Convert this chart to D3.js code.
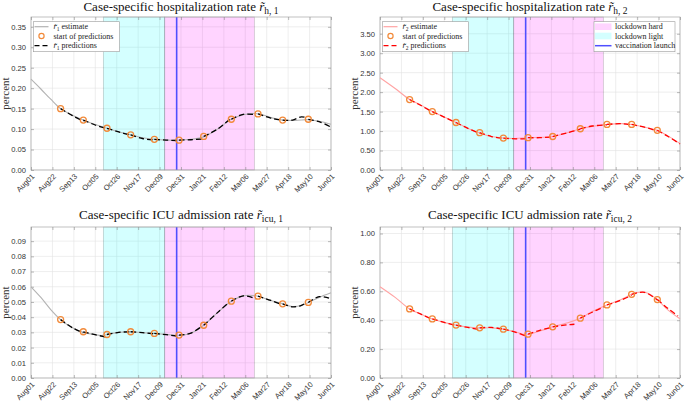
<!DOCTYPE html>
<html><head><meta charset="utf-8">
<script src="https://cdn.jsdelivr.net/npm/d3@7"></script>
<style>body{margin:0;background:#fff}</style>
</head><body>
<svg id="chart" width="685" height="402"></svg>
<script>
// ---------- data ----------
const xTickLabels = ["Aug01","Aug22","Sep13","Oct05","Oct26","Nov17","Dec09","Dec31","Jan21","Feb12","Mar06","Mar27","Apr18","May10","Jun01"];
const totalDays = 304; // Aug01 -> Jun01
const lockdownLight = [73.3, 135.5];
const lockdownHard = [135.5, 226.3];
const vaccinationDay = 147.6;

const estH1 = [[0,0.222],[10,0.198],[20,0.173],[30,0.150],[42,0.134],[53,0.122],[65,0.111],[77,0.102],[89,0.093],[101,0.086],[113,0.079],[125,0.075],[137,0.073],[150,0.073],[162,0.075],[175,0.081],[189,0.100],[203,0.124],[215,0.135],[225,0.138],[232,0.137],[243,0.128],[255,0.122],[268,0.121],[281,0.123],[292,0.119],[304,0.112]];
const predH1 = [
  [[30,0.150],[42,0.133],[53,0.119]],
  [[53,0.122],[65,0.110],[77,0.101]],
  [[77,0.102],[89,0.093],[101,0.085]],
  [[101,0.086],[113,0.077],[125,0.073]],
  [[125,0.075],[137,0.073],[150,0.072]],
  [[150,0.073],[162,0.074],[175,0.076]],
  [[175,0.082],[189,0.100],[203,0.127]],
  [[203,0.124],[215,0.136],[228,0.135]],
  [[230,0.137],[243,0.127],[255,0.121]],
  [[255,0.122],[265,0.122],[274,0.130],[280,0.127]],
  [[281,0.124],[292,0.118],[303,0.106]]
];

const estH2 = [[0,2.37],[15,2.10],[30,1.81],[42,1.66],[53,1.50],[65,1.36],[77,1.22],[90,1.06],[101,0.95],[113,0.86],[125,0.82],[137,0.81],[150,0.83],[162,0.84],[175,0.86],[189,0.95],[203,1.06],[215,1.12],[230,1.17],[245,1.19],[255,1.17],[268,1.10],[281,1.02],[292,0.87],[304,0.68]];
const predH2 = [
  [[30,1.81],[42,1.65],[53,1.49]],
  [[53,1.50],[65,1.36],[77,1.21]],
  [[77,1.22],[89,1.07],[101,0.94]],
  [[101,0.96],[113,0.86],[125,0.81]],
  [[125,0.82],[137,0.80],[150,0.81]],
  [[150,0.83],[162,0.83],[175,0.85]],
  [[175,0.86],[189,0.95],[203,1.05]],
  [[203,1.06],[215,1.13],[230,1.16]],
  [[230,1.17],[243,1.19],[255,1.16]],
  [[255,1.17],[268,1.10],[281,1.00]],
  [[281,1.02],[292,0.86],[304,0.67]]
];

const estICU1 = [[0,0.060],[10,0.053],[20,0.045],[30,0.0384],[42,0.033],[53,0.0300],[65,0.0285],[72,0.0280],[77,0.0286],[89,0.0300],[101,0.0304],[113,0.0298],[125,0.0293],[137,0.0287],[150,0.0280],[162,0.0295],[175,0.0347],[189,0.043],[203,0.0505],[215,0.0540],[225,0.0543],[230,0.0538],[243,0.0510],[255,0.0488],[265,0.0470],[275,0.0480],[281,0.0497],[292,0.0530],[304,0.0560]];
const predICU1 = [
  [[30,0.0384],[42,0.0330],[53,0.0297]],
  [[53,0.0304],[65,0.0285],[75,0.0270]],
  [[77,0.0286],[89,0.0300],[101,0.0304]],
  [[101,0.0304],[113,0.0298],[125,0.0290]],
  [[125,0.0293],[137,0.0285],[148,0.0276]],
  [[150,0.0282],[162,0.0295],[173,0.0340]],
  [[175,0.0347],[189,0.0430],[201,0.0500]],
  [[203,0.0505],[215,0.0540],[228,0.0520]],
  [[230,0.0538],[243,0.0510],[253,0.0485]],
  [[255,0.0488],[265,0.0468],[273,0.0475],[279,0.0495]],
  [[281,0.0497],[292,0.0535],[302,0.0525]]
];

const estICU2 = [[0,0.632],[15,0.560],[30,0.478],[42,0.440],[53,0.409],[65,0.385],[77,0.366],[89,0.352],[101,0.347],[113,0.347],[125,0.338],[137,0.320],[148,0.300],[162,0.325],[175,0.354],[189,0.380],[203,0.414],[215,0.460],[230,0.506],[245,0.545],[255,0.579],[265,0.595],[272,0.585],[281,0.543],[292,0.470],[304,0.410]];
const predICU2 = [
  [[30,0.478],[42,0.440],[53,0.405]],
  [[53,0.409],[65,0.385],[77,0.362]],
  [[77,0.366],[89,0.350],[101,0.335]],
  [[101,0.347],[113,0.350],[125,0.338]],
  [[125,0.338],[137,0.318],[148,0.290]],
  [[150,0.303],[162,0.330],[175,0.352]],
  [[175,0.354],[189,0.368],[197,0.372]],
  [[203,0.414],[215,0.455],[228,0.495]],
  [[230,0.506],[243,0.535],[255,0.572]],
  [[255,0.579],[268,0.593],[281,0.540]],
  [[281,0.543],[292,0.480],[302,0.430]]
];

const yTicksH1 = [0,0.05,0.10,0.15,0.20,0.25,0.30,0.35];
const yTicksH2 = [0,0.5,1.0,1.5,2.0,2.5,3.0,3.5];
const yTicksICU1 = [0,0.01,0.02,0.03,0.04,0.05,0.06,0.07,0.08,0.09];
const yTicksICU2 = [0,0.2,0.4,0.6,0.8,1.0];

// ---------- drawing ----------
const svg = d3.select("#chart");
const serif = "'Liberation Serif','DejaVu Serif',serif";
const sans = "'Liberation Sans',Arial,sans-serif";

const panels = [
  {left:31, top:17, bottom:170, ymax:0.374, yticks:yTicksH1, est:estH1, pred:predH1, estColor:"#b3b3b3", predColor:"#000", name:"hospitalization", sub:"h, 1", idx:"1", legend2:false},
  {left:380, top:17, bottom:170, ymax:3.93, yticks:yTicksH2, est:estH2, pred:predH2, estColor:"#ffa3a3", predColor:"#ff0000", name:"hospitalization", sub:"h, 2", idx:"2", legend2:true},
  {left:31, top:227, bottom:378, ymax:0.0993, yticks:yTicksICU1, est:estICU1, pred:predICU1, estColor:"#b3b3b3", predColor:"#000", name:"ICU admission", sub:"icu, 1", idx:"1", legend2:false, noLegend:true},
  {left:380, top:227, bottom:378, ymax:1.045, yticks:yTicksICU2, est:estICU2, pred:predICU2, estColor:"#ffa3a3", predColor:"#ff0000", name:"ICU admission", sub:"icu, 2", idx:"2", legend2:false, noLegend:true}
];

const circleColor = "#f28a3a";

panels.forEach(p => {
  const w = 300;
  const x = d3.scaleLinear().domain([0,totalDays]).range([p.left, p.left+w]);
  const y = d3.scaleLinear().domain([0,p.ymax]).range([p.bottom, p.top]);
  const g = svg.append("g");
  const xTickVals = xTickLabels.map((d,i) => i*totalDays/(xTickLabels.length-1));

  // grid
  g.append("g").selectAll("line").data(xTickVals).join("line")
    .attr("x1", d=>x(d)).attr("x2", d=>x(d)).attr("y1", p.top).attr("y2", p.bottom)
    .attr("stroke","#e3e3e3").attr("stroke-width",0.6);
  g.append("g").selectAll("line").data(p.yticks).join("line")
    .attr("x1", p.left).attr("x2", p.left+w).attr("y1", d=>y(d)).attr("y2", d=>y(d))
    .attr("stroke","#e3e3e3").attr("stroke-width",0.6);

  // patches
  g.append("rect").attr("x", x(lockdownLight[0])).attr("width", x(lockdownLight[1])-x(lockdownLight[0]))
    .attr("y", p.top).attr("height", p.bottom-p.top)
    .attr("fill","#00ffff").attr("fill-opacity",0.17).attr("stroke","rgba(0,0,0,0.22)").attr("stroke-width",0.7);
  g.append("rect").attr("x", x(lockdownHard[0])).attr("width", x(lockdownHard[1])-x(lockdownHard[0]))
    .attr("y", p.top).attr("height", p.bottom-p.top)
    .attr("fill","#ff00ff").attr("fill-opacity",0.17).attr("stroke","rgba(0,0,0,0.22)").attr("stroke-width",0.7);
  g.append("line").attr("x1", x(vaccinationDay)).attr("x2", x(vaccinationDay)).attr("y1", p.top).attr("y2", p.bottom)
    .attr("stroke","#4f4fff").attr("stroke-width",1.6);

  // axes frame
  g.append("rect").attr("x",p.left).attr("y",p.top).attr("width",w).attr("height",p.bottom-p.top)
    .attr("fill","none").attr("stroke","#a6a6a6").attr("stroke-width",0.7);

  // x axis
  const xAxis = d3.axisBottom(x).tickValues(xTickVals).tickFormat((d,i)=>xTickLabels[i]).tickSizeInner(-3).tickSizeOuter(0);
  const xa = g.append("g").attr("transform",`translate(0,${p.bottom})`).call(xAxis);
  xa.select(".domain").remove();
  xa.selectAll(".tick line").attr("stroke","#8c8c8c").attr("stroke-width",0.6);
  xa.selectAll(".tick text").attr("font-family",sans).attr("font-size",7.6).attr("fill","#333")
    .attr("text-anchor","end").attr("x",0).attr("y",0).attr("dy",0)
    .attr("transform","translate(3.5,7) rotate(-45)");
  // top ticks
  const xTop = d3.axisTop(x).tickValues(xTickVals).tickFormat("").tickSizeInner(-3).tickSizeOuter(0);
  const xt = g.append("g").attr("transform",`translate(0,${p.top})`).call(xTop);
  xt.select(".domain").remove();
  xt.selectAll(".tick line").attr("stroke","#8c8c8c").attr("stroke-width",0.6);

  // y axis
  const yAxis = d3.axisLeft(y).tickValues(p.yticks).tickFormat(d3.format(".2f")).tickSizeInner(-3).tickSizeOuter(0).tickPadding(5);
  const ya = g.append("g").attr("transform",`translate(${p.left},0)`).call(yAxis);
  ya.select(".domain").remove();
  ya.selectAll(".tick line").attr("stroke","#8c8c8c").attr("stroke-width",0.6);
  ya.selectAll(".tick text").attr("font-family",sans).attr("font-size",7.6).attr("fill","#333");
  const yRight = d3.axisRight(y).tickValues(p.yticks).tickFormat("").tickSizeInner(-3).tickSizeOuter(0);
  const yr = g.append("g").attr("transform",`translate(${p.left+w},0)`).call(yRight);
  yr.select(".domain").remove();
  yr.selectAll(".tick line").attr("stroke","#8c8c8c").attr("stroke-width",0.6);

  // y label
  g.append("text").attr("transform",`translate(${p.left-22},${(p.top+p.bottom)/2}) rotate(-90)`)
    .attr("text-anchor","middle").attr("font-family",serif).attr("font-size",11).attr("fill","#333").text("percent");

  // lines
  const line = d3.line().x(d=>x(d[0])).y(d=>y(d[1])).curve(d3.curveCatmullRom.alpha(0.5));
  g.append("path").datum(p.est).attr("d",line).attr("fill","none").attr("stroke",p.estColor).attr("stroke-width",1.1);
  g.append("g").selectAll("path").data(p.pred).join("path").attr("d",line)
    .attr("fill","none").attr("stroke",p.predColor).attr("stroke-width",1.3).attr("stroke-dasharray","5.5,3");
  g.append("g").selectAll("circle").data(p.pred.map(s=>s[0])).join("circle")
    .attr("cx",d=>x(d[0])).attr("cy",d=>y(d[1])).attr("r",3)
    .attr("fill","none").attr("stroke",circleColor).attr("stroke-width",1.3);

  // title
  const cx = p.left + w/2;
  const ty = p.top === 17 ? 11 : 219;
  const t = g.append("text").attr("x",cx).attr("y",ty).attr("text-anchor","middle")
    .attr("font-family",serif).attr("font-size",13).attr("fill","#111");
  t.append("tspan").text(`Case-specific ${p.name} rate `);
  t.append("tspan").attr("font-style","italic").text("r\u0303");
  t.append("tspan").attr("font-size",9.5).attr("dy",3).text(p.sub);

  // legend 1
  if (!p.noLegend) {
    const lx = p.left + 2.5, ly = p.top + 4.7, lw = 86, lh = 30;
    const lg = g.append("g");
    lg.append("rect").attr("x",lx).attr("y",ly).attr("width",lw).attr("height",lh)
      .attr("fill","#fff").attr("stroke","#9a9a9a").attr("stroke-width",0.6);
    const rows = [ly+5, ly+14.3, ly+24];
    lg.append("line").attr("x1",lx+1).attr("x2",lx+15).attr("y1",rows[0]).attr("y2",rows[0]).attr("stroke",p.estColor).attr("stroke-width",1.2);
    lg.append("circle").attr("cx",lx+8).attr("cy",rows[1]).attr("r",2.6).attr("fill","none").attr("stroke",circleColor).attr("stroke-width",1.2);
    lg.append("line").attr("x1",lx+1).attr("x2",lx+15).attr("y1",rows[2]).attr("y2",rows[2]).attr("stroke",p.predColor).attr("stroke-width",1.3).attr("stroke-dasharray","5,3");
    const labels = [" estimate", "start of predictions", " predictions"];
    labels.forEach((lab,i) => {
      const tx = lg.append("text").attr("x",lx+20).attr("y",rows[i]+2.7).attr("font-family",serif).attr("font-size",8).attr("fill","#222");
      if (i !== 1) {
        tx.append("tspan").attr("font-style","italic").text("r\u0303");
        tx.append("tspan").attr("font-size",5.5).attr("dy",1.5).text(p.idx);
        tx.append("tspan").attr("dy",-1.5).text(lab);
      } else tx.text(lab);
    });
  }
  // legend 2
  if (p.legend2) {
    const lx = p.left + w - 86, ly = p.top + 4.7, lw = 81, lh = 30;
    const lg = g.append("g");
    lg.append("rect").attr("x",lx).attr("y",ly).attr("width",lw).attr("height",lh)
      .attr("fill","#fff").attr("stroke","#9a9a9a").attr("stroke-width",0.6);
    const rows = [ly+5, ly+14.3, ly+24];
    lg.append("rect").attr("x",lx+1).attr("y",rows[0]-3.3).attr("width",16.5).attr("height",6.6).attr("fill","#ff00ff").attr("fill-opacity",0.17);
    lg.append("rect").attr("x",lx+1).attr("y",rows[1]-3.3).attr("width",16.5).attr("height",6.6).attr("fill","#00ffff").attr("fill-opacity",0.17);
    lg.append("line").attr("x1",lx+1).attr("x2",lx+17.5).attr("y1",rows[2]).attr("y2",rows[2]).attr("stroke","#4f4fff").attr("stroke-width",1.5);
    ["lockdown hard","lockdown light","vaccination launch"].forEach((lab,i)=>{
      lg.append("text").attr("x",lx+21).attr("y",rows[i]+2.7).attr("font-family",serif).attr("font-size",8).attr("fill","#222").text(lab);
    });
  }
});
</script>
</body></html>
